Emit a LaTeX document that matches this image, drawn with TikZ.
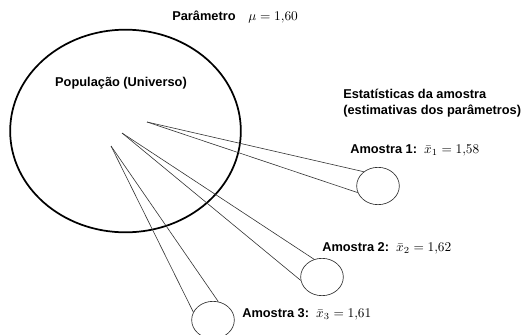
\documentclass[tikz,border=0pt]{standalone}
\usepackage{fontspec}
\setmainfont{Liberation Sans}
\usetikzlibrary{shapes.geometric,positioning}

\begin{document}
\begin{tikzpicture}[
        x=0.75pt, y=-0.75pt,
        every node/.style={font=\fontsize{9.6pt}{12pt}\selectfont},
        population/.style={ellipse, draw=black, line width=1.3pt, minimum width=173pt, minimum height=152pt, inner sep=0pt},
        sample/.style={ellipse, draw=black!80, line width=0.5pt, minimum width=32pt, minimum height=28pt, inner sep=0pt},
        label/.style={font=\fontsize{9.6pt}{12pt}\selectfont\bfseries, inner sep=0pt, anchor=west},
        cone/.style={draw=black!80, line width=0.45pt}
    ]
        \useasboundingbox (0,0) rectangle (524,335);

        % Population and its parameter
        \node[population] (pop) at (125.5,131) {};
        \node[label, anchor=center] (poptext) at (121,83) {População (Universo)};
        \node[label] (param) at (172,17) {Parâmetro\quad\mdseries$\mu = 1{,}60$};

        % Sample statistics heading
        \node[label, align=left] (stats) at (343,103) {Estatísticas da amostra\\(estimativas dos parâmetros)};

        % Samples
        \node[sample] (s1) at (378,186) {};
        \node[sample] (s2) at (322,277) {};
        \node[sample] (s3) at (213,320) {};

        \node[label] (l1) at (350,150) {Amostra 1:\ \ \mdseries$\bar{x}_1 = 1{,}58$};
        \node[label] (l2) at (322,248) {Amostra 2:\ \ \mdseries$\bar{x}_2 = 1{,}62$};
        \node[label] (l3) at (242,314) {Amostra 3:\ \ \mdseries$\bar{x}_3 = 1{,}61$};

        % Cone apexes inside the population
        \coordinate (a1) at (147,122);
        \coordinate (a2) at (122,133);
        \coordinate (a3) at (111,146);

        % Sampling cones
        \draw[cone] (a1) -- (s1.135);
        \draw[cone] (a1) -- (s1.198);
        \draw[cone] (a2) -- (s2.114);
        \draw[cone] (a2) -- (s2.189);
        \draw[cone] (a3) -- (s3.74);
        \draw[cone] (a3) -- (s3.158);
    \end{tikzpicture}
\end{document}
